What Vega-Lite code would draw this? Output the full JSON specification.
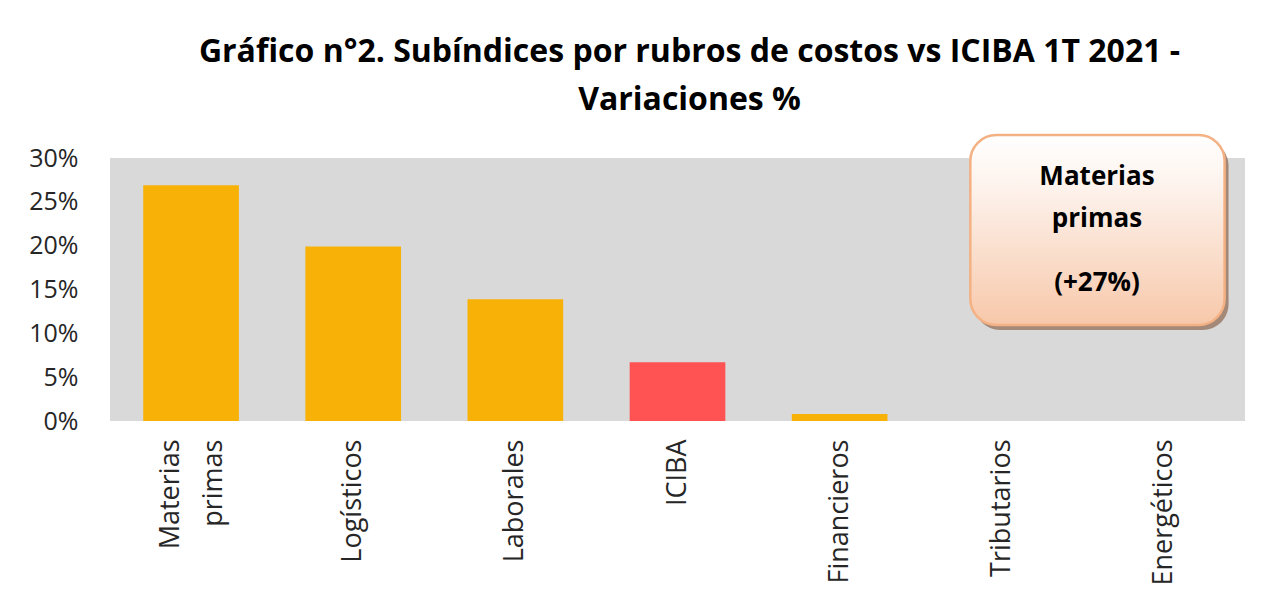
{
  "$schema": "https://vega.github.io/schema/vega-lite/v6.json",
  "width": 1135,
  "height": 263,
  "autosize": "none",
  "padding": {"left": 110, "top": 158, "right": 28, "bottom": 184},
  "background": "white",
  "config": {
    "view": {"fill": "#d9d9d9", "stroke": null},
    "font": "Open Sans"
  },
  "title": {
    "text": ["Gráfico n°2. Subíndices por rubros de costos vs ICIBA 1T 2021 -", "Variaciones %"],
    "fontSize": 32,
    "fontWeight": "bold",
    "color": "#000000",
    "lineHeight": 48,
    "anchor": "middle",
    "dx": 12,
    "offset": 17
  },
  "datasets": {
    "bars": [
      {"rubro": "Materias primas", "valor": 0.269, "serie": "Subíndice"},
      {"rubro": "Logísticos", "valor": 0.199, "serie": "Subíndice"},
      {"rubro": "Laborales", "valor": 0.139, "serie": "Subíndice"},
      {"rubro": "ICIBA", "valor": 0.067, "serie": "ICIBA"},
      {"rubro": "Financieros", "valor": 0.008, "serie": "Subíndice"},
      {"rubro": "Tributarios", "valor": 0.0, "serie": "Subíndice"},
      {"rubro": "Energéticos", "valor": 0.0, "serie": "Subíndice"}
    ],
    "box": [
      {"x0": 0.758, "x1": 0.982, "y0": 0.1095, "y1": 0.3262}
    ],
    "notes": [
      {"t": "Materias", "x": 0.8696, "y": 0.2783},
      {"t": "primas", "x": 0.8696, "y": 0.2304},
      {"t": "(+27%)", "x": 0.8696, "y": 0.1574}
    ]
  },
  "layer": [
    {
      "data": {"name": "bars"},
      "mark": {"type": "bar"},
      "encoding": {
        "x": {
          "field": "rubro",
          "type": "nominal",
          "sort": null,
          "scale": {"paddingInner": 0.41, "paddingOuter": 0.205},
          "axis": {
            "title": null,
            "domain": false,
            "ticks": false,
            "labelAngle": -90,
            "labelFontSize": 27,
            "labelColor": "#262626",
            "labelPadding": 18,
            "labelLineHeight": 43,
            "labelOffset": {"condition": {"test": "datum.value == 'Materias primas'", "value": -20}, "value": 0},
            "labelExpr": "datum.value == 'Materias primas' ? ['Materias', 'primas'] : datum.value"
          }
        },
        "y": {
          "field": "valor",
          "type": "quantitative",
          "scale": {"domain": [0, 0.3], "nice": false, "zero": true},
          "axis": {
            "title": null,
            "format": ".0%",
            "values": [0, 0.05, 0.1, 0.15, 0.2, 0.25, 0.3],
            "domain": false,
            "ticks": false,
            "grid": false,
            "labelFontSize": 25,
            "labelColor": "#262626",
            "labelPadding": 32
          }
        },
        "color": {
          "field": "serie",
          "type": "nominal",
          "scale": {"domain": ["Subíndice", "ICIBA"], "range": ["#f8b106", "#ff5252"]},
          "legend": null
        }
      }
    },
    {
      "data": {"name": "box"},
      "mark": {"type": "rect", "cornerRadius": 26, "fill": "#9a7a66", "opacity": 0.85, "xOffset": 4, "yOffset": 5, "x2Offset": 4, "y2Offset": 5},
      "encoding": {
        "x": {"field": "x0", "type": "quantitative", "scale": {"domain": [0, 1], "nice": false, "zero": false}, "axis": null},
        "x2": {"field": "x1"},
        "y": {"field": "y0", "type": "quantitative"},
        "y2": {"field": "y1"}
      }
    },
    {
      "data": {"name": "box"},
      "mark": {
        "type": "rect",
        "cornerRadius": 26,
        "stroke": "#f4b183",
        "strokeWidth": 2.5,
        "fill": {
          "gradient": "linear",
          "x1": 0, "y1": 0, "x2": 0, "y2": 1,
          "stops": [
            {"offset": 0, "color": "#ffffff"},
            {"offset": 0.3, "color": "#fdf1ea"},
            {"offset": 1, "color": "#f7c8aa"}
          ]
        }
      },
      "encoding": {
        "x": {"field": "x0", "type": "quantitative", "scale": {"domain": [0, 1], "nice": false, "zero": false}, "axis": null},
        "x2": {"field": "x1"},
        "y": {"field": "y0", "type": "quantitative"},
        "y2": {"field": "y1"}
      }
    },
    {
      "data": {"name": "notes"},
      "mark": {"type": "text", "fontSize": 26, "fontWeight": "bold", "color": "#000000", "align": "center", "baseline": "middle"},
      "encoding": {
        "x": {"field": "x", "type": "quantitative", "scale": {"domain": [0, 1], "nice": false, "zero": false}, "axis": null},
        "y": {"field": "y", "type": "quantitative"},
        "text": {"field": "t", "type": "nominal"}
      }
    }
  ],
  "resolve": {"scale": {"x": "independent"}}
}
